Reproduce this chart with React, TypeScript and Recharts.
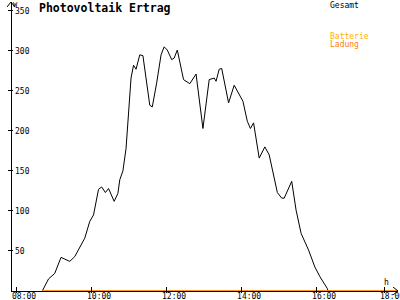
import { LineChart, Line, XAxis, YAxis } from "recharts";

// minutes since midnight / Watt
const gesamtTime = [
  522, 532, 542, 552, 566, 574, 590, 598, 604, 612, 617, 623, 628, 637, 643,
  646, 651, 656, 664, 668, 672, 678, 683, 694, 698, 705, 712, 717, 722, 729,
  733, 738, 748, 758, 768, 779, 789, 797, 800, 805, 809, 820, 829, 843, 850,
  855, 860, 869, 878, 885, 898, 905, 909, 921, 928, 936, 948, 958, 966, 978,
  979,
];
const gesamtWatt = [
  0, 15, 22, 42, 37, 43, 66, 87, 95, 127, 130, 123, 128, 112, 122, 139, 150,
  178, 266, 282, 277, 295, 294, 232, 230, 260, 295, 305, 301, 289, 291, 301,
  264, 259, 271, 203, 264, 266, 262, 277, 278, 235, 257, 237, 212, 203, 210,
  166, 180, 170, 123, 116, 116, 137, 101, 72, 51, 30, 18, 3, 0,
];
const ladungTime = [522, 1090];
const ladungWatt = [0, 0];

const xTicks = [480, 600, 720, 840, 960, 1080];
const yTicks = [0, 50, 100, 150, 200, 250, 300, 350];
const seriesNames = ["Gesamt", "Batterie", "Ladung"];

const gesamt = gesamtTime.map((t, i) => ({ t, w: gesamtWatt[i] }));
const ladung = ladungTime.map((t, i) => ({ t, w: ladungWatt[i] }));

const mono = "'DejaVu Sans Mono', monospace";

const fmtTime = (m: number) =>
  `${String(Math.floor(m / 60)).padStart(2, "0")}:${String(m % 60).padStart(2, "0")}`;

const XTick = ({ x, y, payload }: any) => (
  <g>
    <line x1={x} x2={x} y1={y - 4} y2={y + 2} stroke="#000" shapeRendering="crispEdges" />
    <text x={x - 4} y={y + 8} fontSize={8} fontFamily={mono} fill="#000">
      {fmtTime(payload.value)}
    </text>
  </g>
);

const YTick = ({ x, y, payload }: any) =>
  payload.value === 0 ? null : (
    <g>
      <line x1={x - 3} x2={x + 2} y1={y} y2={y} stroke="#000" shapeRendering="crispEdges" />
      <text x={x + 4} y={y + 3} fontSize={8} fontFamily={mono} fill="#000">
        {payload.value}
      </text>
    </g>
  );

export default function App() {
  return (
    <div style={{ position: "absolute", left: 0, top: 0, background: "#fff" }}>
      <LineChart
        width={400}
        height={300}
        margin={{ top: 2, right: 2, bottom: 0, left: 0 }}
        style={{ fontFamily: mono }}
      >
        <defs>
          <marker
            id="arrow"
            viewBox="0 0 6 8"
            refX={5}
            refY={4}
            markerWidth={6}
            markerHeight={8}
            markerUnits="userSpaceOnUse"
            orient="auto-start-reverse"
          >
            <path d="M0,0 L5,4 L0,8" fill="none" stroke="#000" strokeWidth={1} />
          </marker>
        </defs>
        <XAxis
          type="number"
          dataKey="t"
          domain={[472, 1091]}
          ticks={xTicks}
          height={9}
          tickSize={0}
          tickMargin={0}
          tickLine={false}
          tick={<XTick />}
          axisLine={{ stroke: "#000", markerEnd: "url(#arrow)", shapeRendering: "crispEdges" }}
          allowDataOverflow
        />
        <YAxis
          type="number"
          domain={[0, 361]}
          ticks={yTicks}
          width={11}
          tickSize={0}
          tickMargin={0}
          tickLine={false}
          tick={<YTick />}
          axisLine={{ stroke: "#000", markerStart: "url(#arrow)", shapeRendering: "crispEdges" }}
          allowDataOverflow
        />
        <Line
          data={gesamt}
          dataKey="w"
          name={seriesNames[0]}
          type="linear"
          stroke="#000"
          strokeWidth={1}
          dot={false}
          isAnimationActive={false}
        />
        <Line
          data={ladung}
          dataKey="w"
          name={seriesNames[1]}
          type="linear"
          stroke="#ffb000"
          strokeWidth={1}
          dot={false}
          isAnimationActive={false}
        />
        <Line
          data={ladung}
          dataKey="w"
          name={seriesNames[2]}
          type="linear"
          stroke="#ff8000"
          strokeWidth={1.5}
          dot={false}
          isAnimationActive={false}
        />
        <text x={39} y={12} fontSize={11.5} fontWeight="bold" fontFamily={mono} fill="#000">
          Photovoltaik Ertrag
        </text>
        <text x={13} y={7} fontSize={7} fontFamily={mono} fill="#000">W</text>
        <text x={384} y={285} fontSize={8} fontFamily={mono} fill="#000">h</text>
        <text x={330} y={8} fontSize={8} fontFamily={mono} fill="#000">{seriesNames[0]}</text>
        <text x={330} y={39} fontSize={8} fontFamily={mono} fill="#ffb000">{seriesNames[1]}</text>
        <text x={330} y={47} fontSize={8} fontFamily={mono} fill="#ff8000">{seriesNames[2]}</text>
      </LineChart>
    </div>
  );
}
